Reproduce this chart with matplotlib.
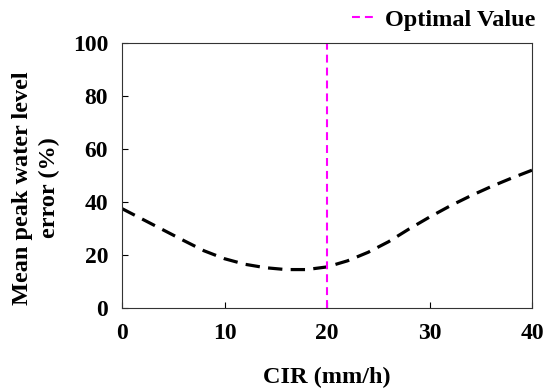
import numpy as np
import matplotlib
matplotlib.use('Agg')
from matplotlib import pyplot as plt

# CIR (mm/h) vs mean peak water level error (%)
cir = [0, 2, 4, 6, 8, 10, 12, 14, 16, 18, 20, 22, 24, 26, 28, 30, 32, 34, 36, 38, 40]
err = [37.5, 33.5, 29.5, 25.5, 21.6, 18.6, 16.5, 15.2, 14.5, 14.5, 15.5,
       17.8, 21.0, 25.0, 29.8, 34.3, 38.5, 42.3, 45.8, 49.0, 52.0]
optimal = 20

plt.rcParams['font.family'] = ['Liberation Serif', 'DejaVu Serif']
plt.rcParams['font.weight'] = 'bold'

fig = plt.figure(figsize=(5.5, 3.92), dpi=100)
ax = fig.add_axes([122 / 550, 1 - 308 / 392, 410 / 550, 265 / 392])

ax.plot(cir, err, color='black', linestyle=(0, (4.5, 2.6)), linewidth=2.3)
ax.axvline(optimal, color='#ff00ff', linestyle=(0, (3.8, 2.4)), linewidth=1.5,
           label='Optimal Value')

ax.set_xlim(0, 40)
ax.set_ylim(0, 100)
ax.set_xticks([0, 10, 20, 30, 40])
ax.set_yticks([0, 20, 40, 60, 80, 100])
ax.tick_params(direction='in', length=4, width=0.8, labelsize=17,
               top=False, right=False)
ax.tick_params(axis='x', pad=11)
ax.tick_params(axis='y', pad=10)
for lab in ax.get_xticklabels() + ax.get_yticklabels():
    lab.set_fontweight('bold')
for s in ax.spines.values():
    s.set_linewidth(0.8)
    s.set_color('#333333')

ax.set_xlabel('CIR (mm/h)', fontsize=17.5, fontweight='bold')
ax.xaxis.set_label_coords(0.5, -0.222)
ax.xaxis.label.set_va('top')
ax.set_ylabel('Mean peak water level\nerror (%)', fontsize=17.5, fontweight='bold',
              linespacing=1.4)
ax.yaxis.set_label_coords(-0.15, 0.453)

leg = ax.legend(loc='lower right', bbox_to_anchor=(1.035, 1.005), frameon=False,
                fontsize=17.5, handlelength=1.0, handletextpad=0.35,
                borderaxespad=0.05)
for t in leg.get_texts():
    t.set_fontweight('bold')

fig.savefig('out.png', dpi=100)
